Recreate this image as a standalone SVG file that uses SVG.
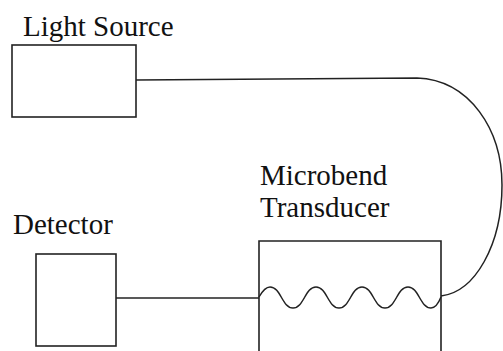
<svg xmlns="http://www.w3.org/2000/svg" width="503" height="351" viewBox="0 0 503 351">
<style>
.box{fill:none;stroke:#222;stroke-width:1.6}
.wire{fill:none;stroke:#222;stroke-width:1.5}
.lbl{font-family:"Liberation Serif","Times New Roman",serif;font-size:29px;fill:#111}
</style>
<rect width="503" height="351" fill="#fff"/>
<g id="light-source">
<rect class="box" x="12" y="45" width="124" height="72"/>
<text class="lbl" x="23" y="36">Light Source</text>
</g>
<g id="detector">
<rect class="box" x="36" y="254" width="80" height="92"/>
<text class="lbl" x="13" y="234">Detector</text>
</g>
<g id="transducer">
<path class="box" d="M259 352 V241 H441 V352"/>
<text class="lbl" x="260" y="185">Microbend</text>
<text class="lbl" x="260" y="217">Transducer</text>
</g>
<g id="connectors">
<path class="wire" d="M136 80 L417 78 C470 80 502 130 502 185 C502 245 475 292 441 296"/>
<path class="wire" d="M116 298 H259"/>
<path class="wire" d="M259 297 C263 290 266 287 270 287 C281 287 282 308 293 308 C304 308 305 287 316 287 C327 287 328 308 339 308 C350 308 351 287 362 287 C373 287 374 308 385 308 C396 308 397 287 408 287 C419 287 420 308 431 308 C436 308 439 302 441 297"/>
</g>
</svg>
